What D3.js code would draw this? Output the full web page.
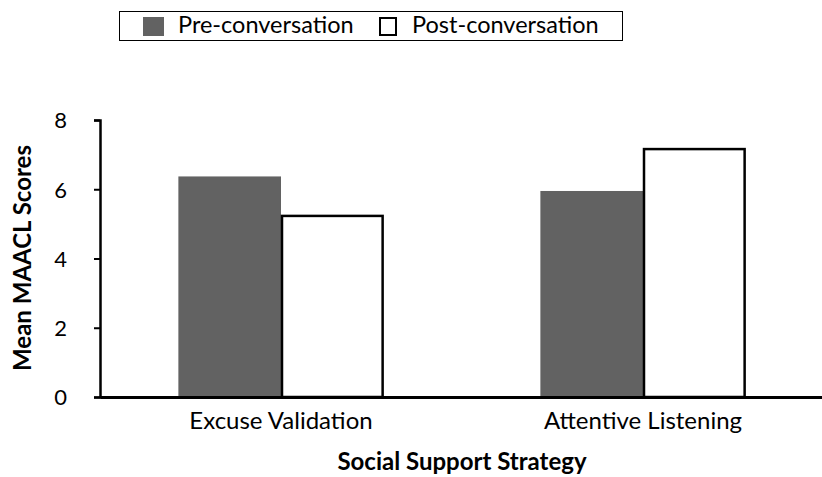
<!DOCTYPE html>
<html><head><meta charset="utf-8">
<script src="https://cdn.jsdelivr.net/npm/d3@7"></script>
<style>body{margin:0;background:#fff}svg{display:block}text{font-family:Lato,"Open Sans",sans-serif}</style>
</head><body><svg id="c" width="822" height="477"></svg>
<script>
const categories = ["Excuse Validation", "Attentive Listening"];
const seriesNames = ["Pre-conversation", "Post-conversation"];
const preValues = [6.37, 5.95];
const postValues = [5.23, 7.16];
const yTicks = [0, 2, 4, 6, 8];

const svg = d3.select("#c");
const m = {left: 100, right: -2, top: 120, bottom: 80};
const W = 822, H = 477;
const x0 = d3.scaleBand().domain(categories).range([m.left, W - m.right]).paddingInner(0.433).paddingOuter(0.2165);
const x1 = d3.scaleBand().domain(seriesNames).range([0, x0.bandwidth()]);
const y = d3.scaleLinear().domain([0, 8]).range([397, 120]);

const data = categories.map((c, i) => ({c, vals: [preValues[i], postValues[i]]}));
const fills = ["#626262", "#ffffff"];

const g = svg.append("g");
data.forEach(d => {
  d.vals.forEach((v, j) => {
    const r = g.append("rect")
      .attr("x", x0(d.c) + x1(seriesNames[j]) + (j ? 1 : 0))
      .attr("y", y(v))
      .attr("width", x1.bandwidth() - (j ? 2 : 0))
      .attr("height", y(0) - y(v))
      .attr("fill", fills[j]);
    if (j) r.attr("stroke", "#000").attr("stroke-width", 2.5);
  });
});

// y axis
const ya = svg.append("g").attr("transform", `translate(${m.left},0)`)
  .call(d3.axisLeft(y).tickValues(yTicks).tickSize(6).tickPadding(27));
ya.select(".domain").attr("stroke", "#000").attr("stroke-width", 2.5);
ya.selectAll(".tick line").attr("stroke", "#000").attr("stroke-width", 2);
ya.selectAll(".tick text").attr("font-size", 22).attr("fill", "#000").attr("dy", "0.36em");

// x axis
const xa = svg.append("g").attr("transform", `translate(0,${y(0)})`)
  .call(d3.axisBottom(x0).tickSize(0).tickPadding(0));
xa.select(".domain").attr("stroke", "#000").attr("stroke-width", 3);
xa.selectAll(".tick text").attr("font-size", 24).attr("fill", "#000").attr("y", 32).attr("dy", 0);

// axis titles
svg.append("text").attr("x", 462).attr("y", 470).attr("text-anchor", "middle")
  .attr("font-size", 24).attr("font-weight", "bold").text("Social Support Strategy");
svg.append("text").attr("transform", "translate(31,258) rotate(-90)").attr("text-anchor", "middle")
  .attr("font-size", 24).attr("font-weight", "bold").text("Mean MAACL Scores");

// legend
const lg = svg.append("g");
lg.append("rect").attr("x", 119.5).attr("y", 11.5).attr("width", 503).attr("height", 29)
  .attr("fill", "#fff").attr("stroke", "#000").attr("stroke-width", 1);
const legX = [143, 379];
const textX = [178, 412];
seriesNames.forEach((s, j) => {
  const sw = lg.append("rect").attr("x", legX[j]).attr("y", 17).attr("width", 21).attr("height", 19)
    .attr("fill", fills[j]);
  if (j) sw.attr("x", legX[j] + 1).attr("y", 18).attr("width", 16).attr("height", 17).attr("stroke", "#000").attr("stroke-width", 2);
  lg.append("text").attr("x", textX[j]).attr("y", 33).attr("font-size", 23.5).text(s);
});
</script></body></html>
